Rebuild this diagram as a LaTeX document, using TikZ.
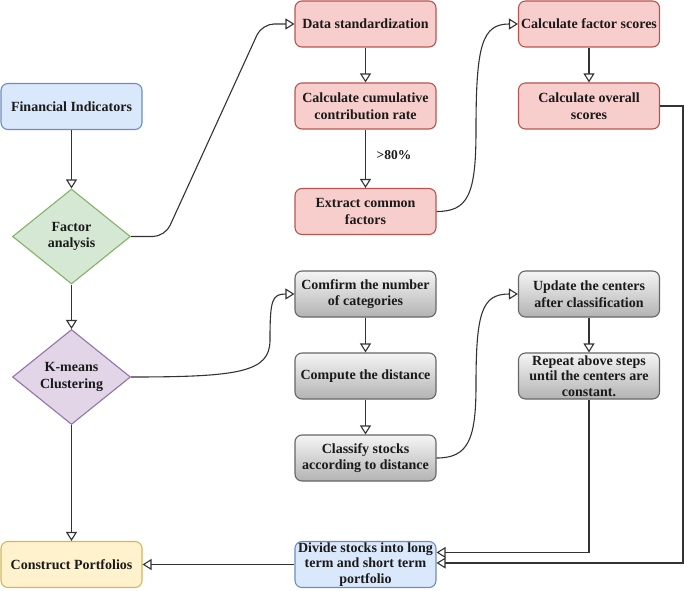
\documentclass[tikz,border=0pt]{standalone}
\usepackage{fontspec}
\setmainfont{Liberation Serif}
\usetikzlibrary{shapes.geometric,arrows.meta}
\definecolor{redF}{HTML}{F8CECC}
\definecolor{redS}{HTML}{B85450}
\definecolor{blueF}{HTML}{DAE8FC}
\definecolor{blueS}{HTML}{6C8EBF}
\definecolor{greenF}{HTML}{D5E8D4}
\definecolor{greenS}{HTML}{82B366}
\definecolor{purpF}{HTML}{E1D5E7}
\definecolor{purpS}{HTML}{9673A6}
\definecolor{yelF}{HTML}{FFF2CC}
\definecolor{yelS}{HTML}{D6B656}
\definecolor{grayA}{HTML}{F5F5F5}
\definecolor{grayB}{HTML}{B3B3B3}
\definecolor{grayS}{HTML}{666666}
\definecolor{lineC}{HTML}{333333}
\definecolor{txtC}{HTML}{1A1A1A}
\tikzset{
  basebox/.style={rectangle, rounded corners=7pt, minimum width=141pt, minimum height=46pt,
    inner sep=0pt, align=center, line width=1.1pt, text=txtC,
    font=\bfseries\fontsize{14}{16.5}\selectfont},
  redbox/.style={basebox, fill=redF, draw=redS},
  bluebox/.style={basebox, fill=blueF, draw=blueS},
  yelbox/.style={basebox, fill=yelF, draw=yelS},
  graybox/.style={basebox, top color=grayA, bottom color=grayB, draw=grayS},
  basedia/.style={diamond, aspect=1.24, minimum width=118pt, minimum height=95pt,
    inner sep=0pt, align=center, line width=1.1pt, text=txtC,
    font=\bfseries\fontsize{14}{16.5}\selectfont},
  greendia/.style={basedia, fill=greenF, draw=greenS},
  purpdia/.style={basedia, fill=purpF, draw=purpS},
  arr/.style={draw=lineC, line width=1.1pt, -{Triangle[open,length=9pt,width=11pt]}},
  lbl/.style={text=txtC, font=\bfseries\fontsize{13.5}{16}\selectfont, inner sep=0pt}
}
\begin{document}
\begin{tikzpicture}[x=1pt,y=-1pt]
\useasboundingbox (0,0) rectangle (685,591);
% left column
\node[bluebox] (fi) at (71.5,106.5) {Financial Indicators};
\node[greendia] (fa) at (71.5,236.5) {Factor\\analysis};
\node[purpdia] (km) at (71.5,377) {K-means\\Clustering};
\node[yelbox] (cp) at (71.5,564.5) {Construct Portfolios};
% factor analysis branch
\node[redbox] (ds) at (365.5,24) {Data standardization};
\node[redbox] (cc) at (365.5,106) {Calculate cumulative\\contribution rate};
\node[redbox] (ec) at (365.5,211.5) {Extract common\\factors};
\node[redbox] (fs) at (589,24) {Calculate factor scores};
\node[redbox] (os) at (589,106) {Calculate overall\\scores};
% clustering branch
\node[graybox] (cn) at (365.5,294) {Comfirm the number\\of categories};
\node[graybox] (cd) at (365.5,376) {Compute the distance};
\node[graybox] (cl) at (365.5,458) {Classify stocks\\according to distance};
\node[graybox] (uc) at (589,294) {Update the centers\\after classification};
\node[graybox, font=\bfseries\fontsize{14}{15.5}\selectfont] (rp) at (589,376) {Repeat above steps\\until the centers are\\constant.};
\node[bluebox, font=\bfseries\fontsize{14}{15.5}\selectfont] (dv) at (365.5,564.5) {Divide stocks into long\\term and short term\\portfolio};
\node[lbl] (p80) at (394,155) {>80\%};
\coordinate (c1) at (683,563);
\coordinate (c2) at (589,552.5);
% connectors
\draw[arr] (fi) -- (fa);
\draw[arr] (fa) -- (km);
\draw[arr] (km) -- (cp);
\draw[arr, rounded corners=12pt] (fa.east) -- (165,236.5) -- (262,24) -- (ds.west);
\draw[arr] (km.east) .. controls (240,377) and (270,372) .. (270,340) .. controls (270,300) and (272,294) .. (cn.west);
\draw[arr] (ds) -- (cc);
\draw[arr] (cc) -- (ec);
\draw[arr] (ec.east) .. controls (468,211.5) and (476,195) .. (476,130) .. controls (476,45) and (482,24) .. (fs.west);
\draw[arr] (fs) -- (os);
\draw[arr] (cn) -- (cd);
\draw[arr] (cd) -- (cl);
\draw[arr] (cl.east) .. controls (468,458) and (476,440) .. (476,385) .. controls (476,312) and (482,294) .. (uc.west);
\draw[arr] (uc) -- (rp);
\draw[arr] (os.east) -| (c1) -- (c1 -| dv.east);
\draw[arr] (rp.south) |- (c2 -| dv.east);
\draw[arr] (dv.west) -- (cp.east);
\end{tikzpicture}
\end{document}
